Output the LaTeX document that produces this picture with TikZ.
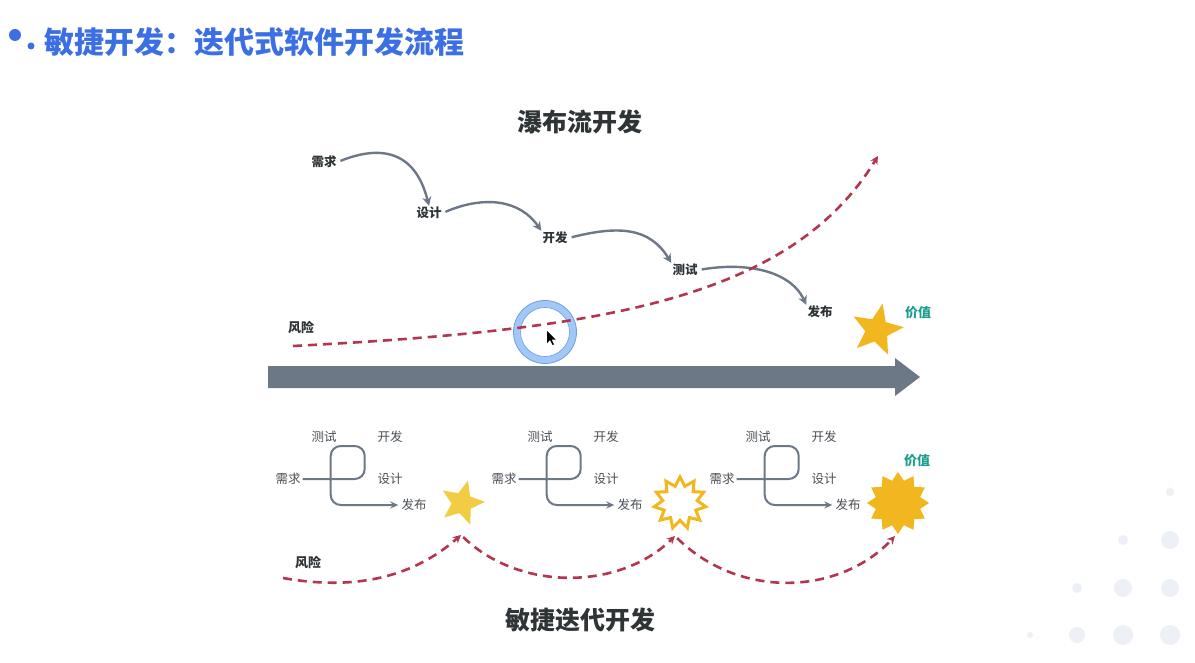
\documentclass[tikz,border=0pt]{standalone}
\usepackage{fontspec}
\setmainfont{Noto Sans CJK SC}
\usetikzlibrary{arrows.meta,shapes.geometric}
\definecolor{titleblue}{HTML}{3B6FE3}
\definecolor{ink}{HTML}{2F3437}
\definecolor{softink}{HTML}{4A4F54}
\definecolor{flow}{HTML}{6C7886}
\definecolor{risk}{HTML}{B3364E}
\definecolor{gold}{HTML}{F2B61F}
\definecolor{palegold}{HTML}{F1CD44}
\definecolor{valueteal}{HTML}{1A9E8E}
\definecolor{ringblue}{HTML}{A3C8F5}
\definecolor{ringedge}{HTML}{6A9FEA}
\definecolor{dotgray}{HTML}{EDF0F6}
\tikzset{
  wlabel/.style={font=\fontsize{12.5}{14}\selectfont\bfseries, text=ink, inner sep=1pt},
  alabel/.style={font=\fontsize{12.5}{14}\selectfont, text=softink, inner sep=1pt},
  heading/.style={font=\fontsize{25}{28}\selectfont\bfseries, text=ink, inner sep=0pt},
  flowarrow/.style={draw=flow, line width=2.4pt, -{Stealth[length=9pt,width=9pt]}},
  looppath/.style={draw=flow, line width=2pt, rounded corners=10pt, -{Stealth[length=8pt,width=7pt]}},
  riskline/.style={draw=risk, line width=2.6pt, dash pattern=on 9pt off 6pt, -{Stealth[length=8pt,width=8pt]}},
  risklabel/.style={font=\fontsize{13}{15}\selectfont\bfseries, text=ink, inner sep=1pt},
  valuetext/.style={font=\fontsize{13}{15}\selectfont\bfseries, text=valueteal, inner sep=1pt},
  starshape/.style={star, inner sep=0pt, outer sep=0pt},
  deco/.style={fill=dotgray},
}
\begin{document}
\begin{tikzpicture}[x=1pt,y=-1pt]
\fill[white] (0,0) rectangle (1195,663);
\useasboundingbox (0,0) rectangle (1195,663);

% decorative dots
\foreach \px/\py/\rr in {1170/492/4, 1123/540/5, 1170/540/9, 1077/588/5, 1123/588/9, 1170/588/9, 1030/635/3, 1077/635/8, 1123/635/10, 1170/635/10}
  \fill[deco] (\px,\py) circle[radius=\rr];

% title
\fill[titleblue] (15,35) circle[radius=6];
\fill[titleblue] (31,46) circle[radius=3.5];
\node[anchor=west, font=\fontsize{30}{33}\selectfont\bfseries, text=titleblue, inner sep=0pt] (title) at (44,42) {敏捷开发：迭代式软件开发流程};

% ---------------- waterfall ----------------
\node[heading] (wfhead) at (580,122) {瀑布流开发};
\node[wlabel] (w1) at (324,162) {需求};
\node[wlabel] (w2) at (429,213) {设计};
\node[wlabel] (w3) at (555,238) {开发};
\node[wlabel] (w4) at (685,270) {测试};
\node[wlabel] (w5) at (820,312) {发布};

\draw[flowarrow, shorten <=3pt] (w1.east) .. controls (380,145) and (415,150) .. (w2.north);
\draw[flowarrow, shorten <=3pt] (w2.east) .. controls (485,195) and (520,200) .. (w3.north west);
\draw[flowarrow, shorten <=3pt] (w3.east) .. controls (620,225) and (650,228) .. (w4.north west);
\draw[flowarrow, shorten <=3pt] (w4.east) .. controls (745,262) and (790,270) .. (w5.north west);

% cursor highlight ring
\draw[ringblue, line width=7pt] (545,332) circle[radius=28];
\draw[ringedge, line width=0.8pt] (545,332) circle[radius=31.5];
\draw[ringedge, line width=0.6pt] (545,332) circle[radius=24.5];

% waterfall risk
\coordinate (wrs) at (293,346);
\coordinate (wre) at (878,156);
\draw[riskline] (wrs) .. controls (600,330) and (790,300) .. (wre);
\node[risklabel] (wrisk) at (301,328) {风险};

% cursor pointer
\fill[black] (547,331) -- (547,343) -- (550,340) -- (552.5,345) -- (554,344.3) -- (551.6,339.5) -- (555.5,339.5) -- cycle;

% value star
\node[starshape, star points=5, star point ratio=2.3, fill=gold, minimum size=54pt, shape border rotate=-12] (wstar) at (877,330) {};
\node[valuetext] (wvalue) at (918,313) {价值};

% timeline arrow
\fill[flow] (268,366) -- (895,366) -- (895,358) -- (920,377) -- (895,396) -- (895,388) -- (268,388) -- cycle;

% ---------------- agile ----------------
\foreach \i/\dx in {1/0, 2/216, 3/434} {
  \node[alabel] (r\i) at (288+\dx,479) {需求};
  \node[alabel] (t\i) at (324+\dx,437) {测试};
  \node[alabel] (k\i) at (390+\dx,437) {开发};
  \node[alabel] (s\i) at (390+\dx,479) {设计};
  \node[alabel] (f\i) at (414+\dx,505) {发布};
  \draw[looppath, shorten <=1pt, shorten >=2pt] (r\i.east) -- ++(63,0) -- ++(0,-33) -- ++(-34,0) -- ++(0,59) -- (f\i.west);
}

\node[starshape, star points=5, star point ratio=2.2, fill=palegold, minimum size=46pt, shape border rotate=-15] (as1) at (462,503) {};
\node[starshape, star points=11, star point ratio=1.5, draw=gold, line width=3pt, fill=white, minimum size=52pt] (as2) at (680,503) {};
\node[starshape, star points=12, star point ratio=1.35, fill=gold, minimum size=62pt] (as3) at (898,503) {};
\node[valuetext] (avalue) at (917,461) {价值};

% agile risk
\node[risklabel] (arisk) at (308,563) {风险};
\coordinate (a0) at (283,578);
\coordinate (p1) at (461,535);
\coordinate (p2) at (675,536);
\coordinate (p3) at (895,536);
\draw[riskline] (a0) .. controls (350,590) and (410,580) .. (p1);
\draw[riskline, shorten <=3pt] (p1) .. controls (520,592) and (620,590) .. (p2);
\draw[riskline, shorten <=3pt] (p2) .. controls (740,600) and (840,595) .. (p3);

\node[heading] (aghead) at (580,620) {敏捷迭代开发};
\end{tikzpicture}
\end{document}
